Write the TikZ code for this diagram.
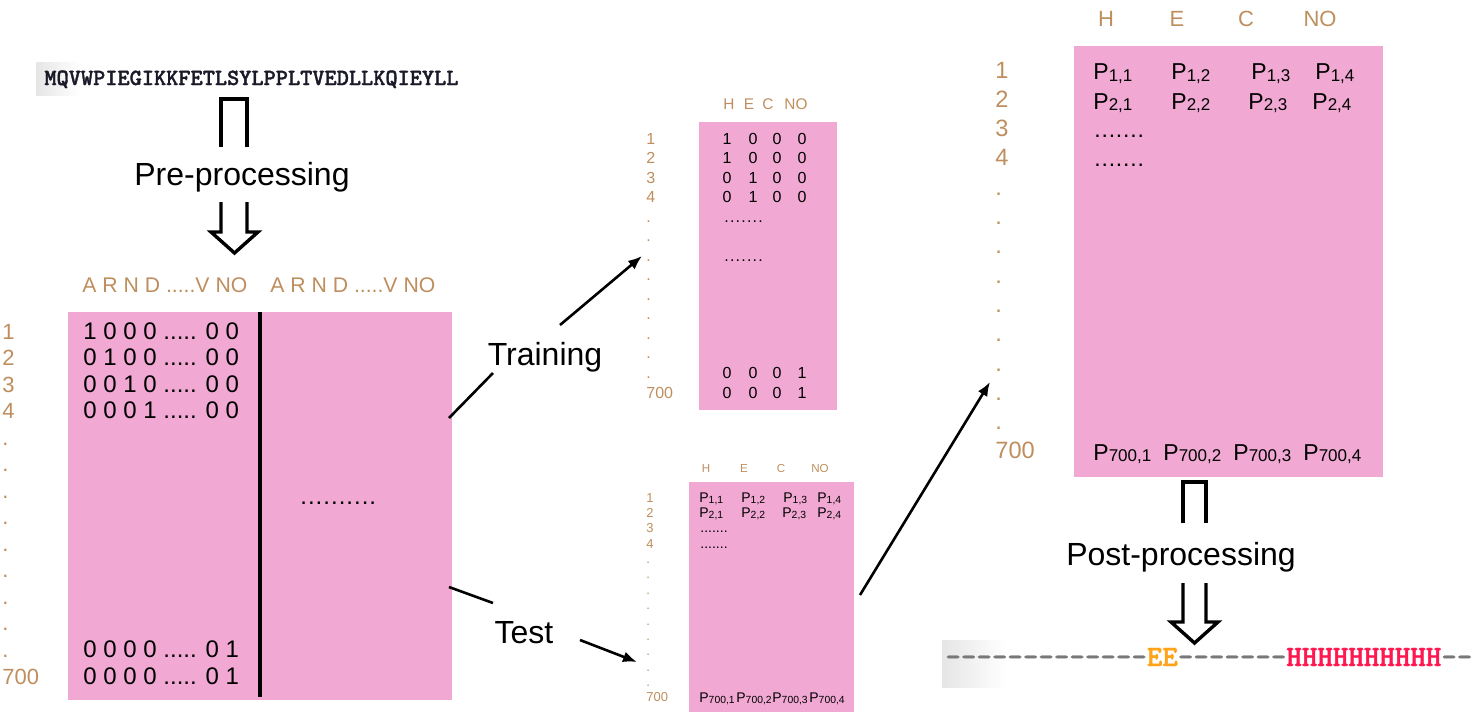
\documentclass[tikz,border=0pt]{standalone}
\usepackage{fontspec}
\setmainfont{Liberation Sans}
\newfontfamily\seqfont{lmmonolt10-bold.otf}[Ligatures=TeXOff,FakeBold=1.5]
\usepackage{graphicx}
\usetikzlibrary{arrows.meta}
\definecolor{pinkc}{RGB}{241,169,212}
\definecolor{tanc}{RGB}{190,142,94}
\definecolor{eorange}{RGB}{255,163,26}
\definecolor{hred}{RGB}{255,23,80}
\definecolor{dashgray}{RGB}{120,120,120}
\definecolor{seqdark}{RGB}{25,25,40}
\newcommand\fs[1]{\fontsize{#1}{#1}\selectfont}
\newcommand\Pv[1]{P\raisebox{-0.08em}{\scalebox{0.74}{#1}}}
\newcommand\dotrun[2]{\foreach \k in {1,...,#1}{.\kern#2}}
\tikzset{
 mat/.style={fill=pinkc, draw=none, inner sep=0pt, outer sep=0pt},
 rowlab/.style={text=tanc, anchor=base west, inner sep=0pt},
 hdr/.style={text=tanc, anchor=base, inner sep=0pt},
 ent/.style={anchor=base west, inner sep=0pt},
 entc/.style={anchor=base, inner sep=0pt},
 biglab/.style={anchor=base, inner sep=0pt, font=\fs{16}},
 conn/.style={line width=1.3pt, -{Latex[length=7pt,width=5.5pt]}},
 seg/.style={line width=1.3pt},
 hollow/.style={line width=1.7pt, line join=miter},
}
\begin{document}
\begin{tikzpicture}[x=0.5pt,y=-0.5pt]
\useasboundingbox (0,0) rectangle (1483,714);
% ---------- input sequence
\shade[left color=black!10, right color=white] (36,62) rectangle (80,95);
\node[ent, text=seqdark, font=\seqfont\fs{11.6}] (seq) at (44,85) {MQVWPIEGIKKFETLSYLPPLTVEDLLKQIEYLL};
% ---------- pre-processing hollow arrow
\draw[hollow] (221,147) -- (221,99) -- (247,99) -- (247,147);
\node[biglab] (pre) at (242,185) {Pre-processing};
\draw[hollow] (221,202) -- (221,232) -- (211,232) -- (234.5,253) -- (258,232) -- (247,232) -- (247,202);
% ---------- big input matrix
\node[hdr, anchor=base west, font=\fs{10.6}] (hA) at (82,292) {A R N D .....V NO};
\node[hdr, anchor=base west, font=\fs{10.6}] (hB) at (270,292) {A R N D .....V NO};
\node[mat, minimum width=192pt, minimum height=194pt] (big) at (260,506) {};
\draw[line width=2.1pt] (260,312) -- (260,697);
\foreach \i/\lbl in {1/1,2/2,3/3,4/4,5/.,6/.,7/.,8/.,9/.,10/.,11/.,12/.,13/.,14/700}
  \node[rowlab, font=\fs{11}] at (2,{339+(\i-1)*26.54}) {\lbl};
\begin{scope}[every node/.style={ent, font=\fs{12}}]
\node at (83,339) {1 0 0 0 ..... 0 0};
\node at (83,365.5) {0 1 0 0 ..... 0 0};
\node at (83,392) {0 0 1 0 ..... 0 0};
\node at (83,418.6) {0 0 0 1 ..... 0 0};
\node at (83,657.5) {0 0 0 0 ..... 0 1};
\node at (83,684) {0 0 0 0 ..... 0 1};
\node at (300,504) {\dotrun{10}{0.5pt}};
\end{scope}
% ---------- connectors Training / Test
\coordinate (tA) at (449,418); \coordinate (tB) at (493,373);
\coordinate (tC) at (560,325); \coordinate (tD) at (642,256);
\draw[seg] (tA) -- (tB);
\draw[conn] (tC) -- (tD);
\node[biglab] (ltrain) at (545,365) {Training};
\coordinate (sA) at (449,587); \coordinate (sB) at (493,603);
\coordinate (sC) at (580,640); \coordinate (sD) at (637,662);
\draw[seg] (sA) -- (sB);
\draw[conn] (sC) -- (sD);
\node[biglab] (ltest) at (524,643) {Test};
% ---------- training matrix
\foreach \x/\h in {729/H,749/E,768/C,796/NO}
  \node[hdr, font=\fs{7.7}] at (\x,109) {\h};
\node[mat, minimum width=69pt, minimum height=144pt] (train) at (768,266) {};
\foreach \i/\lbl in {1/1,2/2,3/3,4/4,5/.,6/.,7/.,8/.,9/.,10/.,11/.,12/.,13/.,14/700}
  \node[rowlab, font=\fs{8}] at (646,{144+(\i-1)*19.54}) {\lbl};
\foreach \r/\a/\b/\c/\d in {1/1/0/0/0,2/1/0/0/0,3/0/1/0/0,4/0/1/0/0,13/0/0/0/1,14/0/0/0/1}{
  \node[entc, font=\fs{8}] at (727,{144+(\r-1)*19.54}) {\a};
  \node[entc, font=\fs{8}] at (753,{144+(\r-1)*19.54}) {\b};
  \node[entc, font=\fs{8}] at (777,{144+(\r-1)*19.54}) {\c};
  \node[entc, font=\fs{8}] at (802,{144+(\r-1)*19.54}) {\d};
}
\node[ent, font=\fs{8}] at (724,222.2) {\dotrun{7}{0.6pt}};
\node[ent, font=\fs{8}] at (724,261.3) {\dotrun{7}{0.6pt}};
% ---------- test matrix
\foreach \x/\h in {706/H,744/E,781/C,820/NO}
  \node[hdr, font=\fs{5.8}] at (\x,472) {\h};
\node[mat, minimum width=82.5pt, minimum height=115pt] (test) at (771.5,597) {};
\foreach \i/\lbl in {1/1,2/2,3/3,4/4,5/.,6/.,7/.,8/.,9/.,10/.,11/.,12/.,13/.,14/700}
  \node[rowlab, font=\fs{6.5}] at (646,{502+(\i-1)*15.38}) {\lbl};
\begin{scope}[every node/.style={ent, font=\fs{7}}]
\node at (699,502) {\Pv{1,1}}; \node at (741,502) {\Pv{1,2}};
\node at (783,502) {\Pv{1,3}}; \node at (817,502) {\Pv{1,4}};
\node at (699,517.4) {\Pv{2,1}}; \node at (741,517.4) {\Pv{2,2}};
\node at (782,517.4) {\Pv{2,3}}; \node at (817,517.4) {\Pv{2,4}};
\node at (700,532.8) {\dotrun{7}{0pt}};
\node at (700,548.1) {\dotrun{7}{0pt}};
\node at (699,702) {\Pv{700,1}}; \node at (736,702) {\Pv{700,2}};
\node at (772,702) {\Pv{700,3}}; \node at (809,702) {\Pv{700,4}};
\end{scope}
\coordinate (uA) at (860,595); \coordinate (uB) at (990,382);
\draw[conn] (uA) -- (uB);
% ---------- result matrix
\foreach \x/\h in {1106/H,1177/E,1246/C,1320/NO}
  \node[hdr, font=\fs{11}] at (\x,26) {\h};
\node[mat, minimum width=154.5pt, minimum height=215.5pt] (res) at (1228.5,261.5) {};
\foreach \i/\lbl in {1/1,2/2,3/3,4/4,5/.,6/.,7/.,8/.,9/.,10/.,11/.,12/.,13/.,14/700}
  \node[rowlab, font=\fs{11.8}] at (995,{78+(\i-1)*29.3}) {\lbl};
\begin{scope}[every node/.style={ent, font=\fs{11.5}}]
\node at (1093,79.5) {\Pv{1,1}}; \node at (1171,79.5) {\Pv{1,2}};
\node at (1251,79.5) {\Pv{1,3}}; \node at (1315,79.5) {\Pv{1,4}};
\node at (1093,109) {\Pv{2,1}}; \node at (1171,109) {\Pv{2,2}};
\node at (1248,109) {\Pv{2,3}}; \node at (1312,109) {\Pv{2,4}};
\node at (1094,137.6) {\dotrun{7}{0.4pt}};
\node at (1094,166.9) {\dotrun{7}{0.4pt}};
\node at (1093,460) {\Pv{700,1}}; \node at (1163,460) {\Pv{700,2}};
\node at (1233,460) {\Pv{700,3}}; \node at (1303,460) {\Pv{700,4}};
\end{scope}
% ---------- post-processing hollow arrow
\draw[hollow] (1183,523) -- (1183,482) -- (1206,482) -- (1206,523);
\node[biglab] (post) at (1181,565) {Post-processing};
\draw[hollow] (1183,583) -- (1183,622) -- (1171,622) -- (1194.5,643) -- (1218,622) -- (1206,622) -- (1206,583);
% ---------- output sequence
\shade[left color=black!10, right color=white] (942,640) rectangle (1006,687);
\node[ent, font=\seqfont\fs{14.76}] (out) at (945,666) {\textcolor{dashgray}{-------------}\textcolor{eorange}{EE}\textcolor{dashgray}{-------}\textcolor{hred}{HHHHHHHHHH}\textcolor{dashgray}{--}};
\end{tikzpicture}
\end{document}
